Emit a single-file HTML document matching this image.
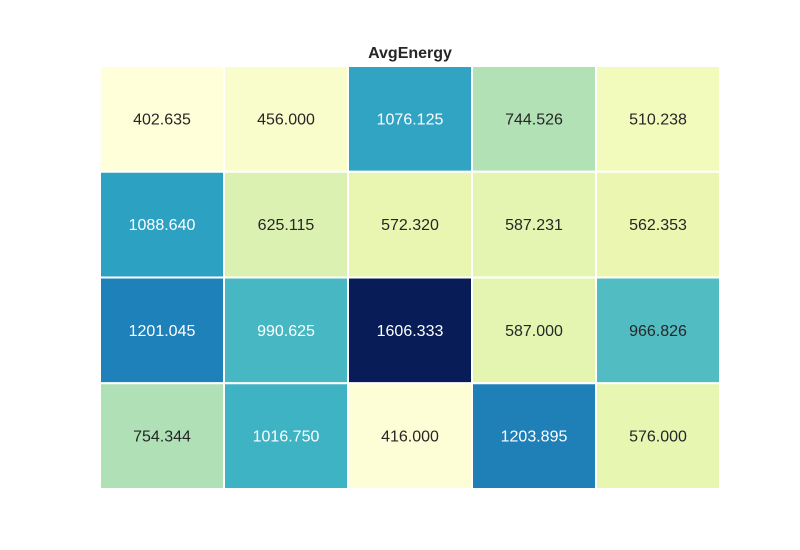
<!DOCTYPE html>
<html><head><meta charset="utf-8">
<style>
html,body{margin:0;padding:0;background:#fff;}
svg{display:block;font-family:"Liberation Sans",sans-serif;}
</style></head>
<body>
<svg id="chart" width="800" height="550">
<text x="410" y="58" text-anchor="middle" font-size="16" font-weight="bold" fill="#262626">AvgEnergy</text>
<g id="cells"></g>
</svg>
<script>
const rowLabels = ["r0","r1","r2","r3"];
const colLabels = ["c0","c1","c2","c3","c4"];
const row0 = [402.635, 456.000, 1076.125, 744.526, 510.238];
const row1 = [1088.640, 625.115, 572.320, 587.231, 562.353];
const row2 = [1201.045, 990.625, 1606.333, 587.000, 966.826];
const row3 = [754.344, 1016.750, 416.000, 1203.895, 576.000];
const values = [row0, row1, row2, row3];

const pal = ["#ffffd9","#edf8b1","#c7e9b4","#7fcdbb","#41b6c4","#1d91c0","#225ea8","#253494","#081d58"];
function hexRGB(h){return [1,3,5].map(function(i){return parseInt(h.substr(i,2),16);});}
function cmap(t){
  t=Math.max(0,Math.min(1,t));
  var p=t*(pal.length-1), i=Math.min(Math.floor(p),pal.length-2), f=p-i;
  var a=hexRGB(pal[i]), b=hexRGB(pal[i+1]);
  return "rgb("+a.map(function(v,k){return Math.round(v+(b[k]-v)*f);}).join(",")+")";
}
const padL=100, padR=720, padT=66, padB=489;
const cw=(padR-padL)/colLabels.length, ch=(padB-padT)/rowLabels.length;
function xPos(j){return padL+j*cw;}
function yPos(i){return padT+i*ch;}
var allVals=[];
values.forEach(function(r){r.forEach(function(v){allVals.push(v);});});
const vmin=Math.min.apply(null,allVals), vmax=Math.max.apply(null,allVals);
const g=document.getElementById("cells"), NS="http://www.w3.org/2000/svg";
values.forEach(function(row,i){row.forEach(function(v,j){
  var t=(v-vmin)/(vmax-vmin);
  var r=document.createElementNS(NS,"rect");
  r.setAttribute("x",xPos(j)); r.setAttribute("y",yPos(i));
  r.setAttribute("width",cw); r.setAttribute("height",ch);
  r.setAttribute("fill",cmap(t)); r.setAttribute("stroke","#fff"); r.setAttribute("stroke-width","2");
  
  
  g.appendChild(r);
  var tx=document.createElementNS(NS,"text");
  tx.setAttribute("x",xPos(j)+cw/2); tx.setAttribute("y",yPos(i)+ch/2+5.5);
  tx.setAttribute("text-anchor","middle"); tx.setAttribute("font-size","16");
  tx.setAttribute("fill", t>0.48?"#ffffff":"#262626");
  tx.textContent=v.toFixed(3);
  
  
  g.appendChild(tx);
});});
</script>
</body></html>
